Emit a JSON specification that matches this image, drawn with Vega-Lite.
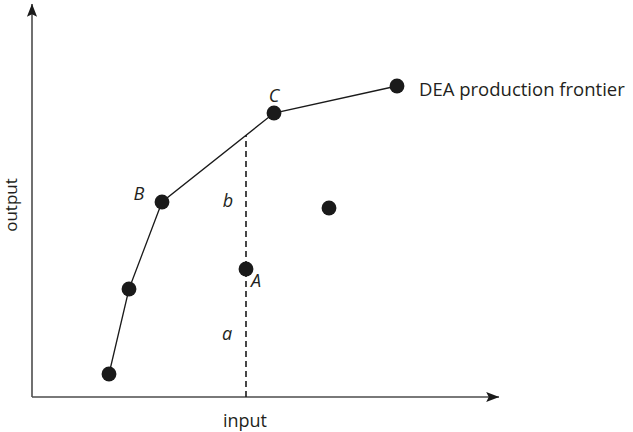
{
  "$schema": "https://vega.github.io/schema/vega-lite/v6.json",
  "width": 633,
  "height": 432,
  "autosize": {"type": "fit", "contains": "padding"},
  "padding": 0,
  "background": "white",
  "config": {"view": {"stroke": null}},
  "datasets": {
    "axes": [
      {"x": 0, "y": 0, "x2": 467, "y2": 0},
      {"x": 0, "y": 0, "x2": 0, "y2": 393}
    ],
    "frontier": [
      {"unit": "P1", "x": 77, "y": 23, "order": 1},
      {"unit": "P2", "x": 97, "y": 108, "order": 2},
      {"unit": "B", "x": 130, "y": 195, "order": 3},
      {"unit": "C", "x": 242, "y": 284, "order": 4},
      {"unit": "D", "x": 365, "y": 311, "order": 5}
    ],
    "units": [
      {"unit": "P1", "x": 77, "y": 23},
      {"unit": "P2", "x": 97, "y": 108},
      {"unit": "B", "x": 130, "y": 195},
      {"unit": "C", "x": 242, "y": 284},
      {"unit": "D", "x": 365, "y": 311},
      {"unit": "A", "x": 214, "y": 128},
      {"unit": "E", "x": 297, "y": 189}
    ],
    "projection": [
      {"x": 214, "y": 0, "y2": 262}
    ],
    "italicLabels": [
      {"label": "B", "x": 107, "y": 202},
      {"label": "C", "x": 242, "y": 300},
      {"label": "A", "x": 224, "y": 115},
      {"label": "b", "x": 196, "y": 195},
      {"label": "a", "x": 195, "y": 62}
    ]
  },
  "encoding": {
    "x": {"field": "x", "type": "quantitative", "scale": {"domain": [-32, 601], "nice": false, "zero": false}, "axis": null},
    "y": {"field": "y", "type": "quantitative", "scale": {"domain": [-35, 397], "nice": false, "zero": false}, "axis": null}
  },
  "layer": [
    {
      "data": {"name": "axes"},
      "mark": {"type": "rule", "color": "#4d4d4d", "strokeWidth": 1.6},
      "encoding": {"x2": {"field": "x2"}, "y2": {"field": "y2"}}
    },
    {
      "data": {"values": [{"x": 460, "y": 0}]},
      "mark": {"type": "point", "shape": "M0,-1 L0.7,0.8 L0,0.45 L-0.7,0.8 Z", "filled": true, "color": "#1a1a1a", "opacity": 1, "size": 210, "angle": 90}
    },
    {
      "data": {"values": [{"x": 0, "y": 386}]},
      "mark": {"type": "point", "shape": "M0,-1 L0.7,0.8 L0,0.45 L-0.7,0.8 Z", "filled": true, "color": "#1a1a1a", "opacity": 1, "size": 210, "angle": 0}
    },
    {
      "data": {"name": "projection"},
      "mark": {"type": "rule", "color": "#1a1a1a", "strokeWidth": 1.6, "strokeDash": [6, 4]},
      "encoding": {"y2": {"field": "y2"}}
    },
    {
      "data": {"name": "frontier"},
      "mark": {"type": "line", "color": "#1a1a1a", "strokeWidth": 1.3},
      "encoding": {"order": {"field": "order", "type": "quantitative"}}
    },
    {
      "data": {"name": "units"},
      "mark": {"type": "circle", "color": "#1a1a1a", "opacity": 1, "size": 220}
    },
    {
      "data": {"name": "italicLabels"},
      "mark": {"type": "text", "font": "Open Sans", "fontStyle": "italic", "fontSize": 18, "color": "#231f20", "align": "center", "baseline": "middle"},
      "encoding": {"text": {"field": "label"}}
    },
    {
      "data": {"values": [{"label": "DEA production frontier", "x": 387, "y": 307}]},
      "mark": {"type": "text", "font": "Open Sans", "fontSize": 18.5, "color": "#231f20", "align": "left", "baseline": "middle"},
      "encoding": {"text": {"field": "label"}}
    },
    {
      "data": {"values": [{"label": "input", "x": 213, "y": -25}]},
      "mark": {"type": "text", "font": "Open Sans", "fontSize": 18, "color": "#231f20", "align": "center", "baseline": "middle"},
      "encoding": {"text": {"field": "label"}}
    },
    {
      "data": {"values": [{"label": "output", "x": -20, "y": 192}]},
      "mark": {"type": "text", "font": "Open Sans", "fontSize": 17, "color": "#231f20", "align": "center", "baseline": "middle", "angle": 270},
      "encoding": {"text": {"field": "label"}}
    }
  ]
}
